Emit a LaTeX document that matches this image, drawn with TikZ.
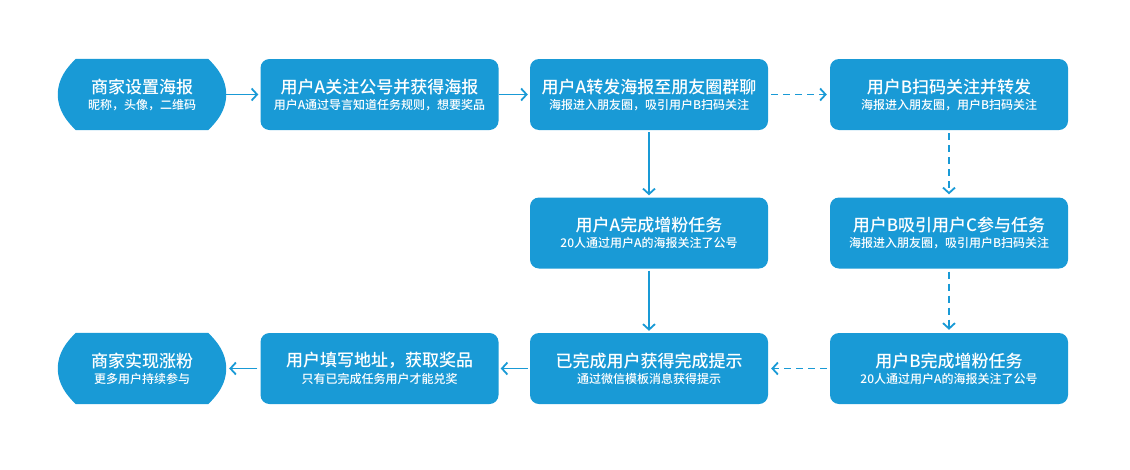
\documentclass[tikz,border=0pt]{standalone}
\usepackage{fontspec}
\setmainfont{Noto Sans CJK SC}[BoldFont={Noto Sans CJK SC Medium}]
\usetikzlibrary{arrows.meta}
\definecolor{cblue}{RGB}{25,154,214}
\begin{document}
\begin{tikzpicture}[x=1pt,y=1pt,
  box/.style={rounded corners=9pt,fill=cblue,minimum width=238pt,minimum height=71pt,text=white,align=center,inner sep=0pt},
  hexn/.style={minimum width=168pt,minimum height=71pt,text=white,align=center,inner sep=0pt},
  conn/.style={cblue,line width=1.8pt,-{Straight Barb[length=5.5pt,width=12pt,line width=1.8pt]}},
  dconn/.style={conn,dash pattern=on 7pt off 5pt}]
\useasboundingbox (0,0) rectangle (1130,-469);
\newcommand{\bt}[2]{{\bfseries\fontsize{17}{19}\selectfont #1}\\[4pt]{\bfseries\fontsize{12}{14}\selectfont #2}}
% hexagon-like nodes
\node[hexn] (start) at (142,-94.5) {};
\node[hexn] (end) at (142,-368.5) {};
\foreach \n in {start,end}{
  \fill[cblue] ([xshift=18pt]\n.north west) -- ([xshift=-18pt]\n.north east)
    .. controls +(9,-9) and +(0,16) .. (\n.east) .. controls +(0,-16) and +(9,9) .. ([xshift=-18pt]\n.south east)
    -- ([xshift=18pt]\n.south west) .. controls +(-9,9) and +(0,-16) .. (\n.west) .. controls +(0,16) and +(-9,-9) .. cycle;
}
\node[hexn] at (start) {\bt{商家设置海报}{昵称，头像，二维码}};
\node[hexn] at (end) {\bt{商家实现涨粉}{更多用户持续参与}};
% boxes
\node[box] (b2) at (379.5,-94.5) {\bt{用户A关注公号并获得海报}{用户A通过导言知道任务规则，想要奖品}};
\node[box] (b3) at (649,-94.5) {\bt{用户A转发海报至朋友圈群聊}{海报进入朋友圈，吸引用户B扫码关注}};
\node[box] (b4) at (949,-94.5) {\bt{用户B扫码关注并转发}{海报进入朋友圈，用户B扫码关注}};
\node[box] (b5) at (649,-233) {\bt{用户A完成增粉任务}{20人通过用户A的海报关注了公号}};
\node[box] (b6) at (949,-233) {\bt{用户B吸引用户C参与任务}{海报进入朋友圈，吸引用户B扫码关注}};
\node[box] (b7) at (379.5,-368.5) {\bt{用户填写地址，获取奖品}{只有已完成任务用户才能兑奖}};
\node[box] (b8) at (649,-368.5) {\bt{已完成用户获得完成提示}{通过微信模板消息获得提示}};
\node[box] (b9) at (949,-368.5) {\bt{用户B完成增粉任务}{20人通过用户A的海报关注了公号}};
% connectors
\draw[conn] (start.east) -- ([xshift=-2pt]b2.west);
\draw[conn] (b2.east) -- ([xshift=-2pt]b3.west);
\draw[dconn] ([xshift=3pt]b3.east) -- ([xshift=-3pt]b4.west);
\draw[conn] ([yshift=-2pt]b3.south) -- ([yshift=2pt]b5.north);
\draw[conn] ([yshift=-2pt]b5.south) -- ([yshift=2pt]b8.north);
\draw[dconn] ([yshift=-3pt]b4.south) -- ([yshift=3pt]b6.north);
\draw[dconn] ([yshift=-3pt]b6.south) -- ([yshift=3pt]b9.north);
\draw[dconn] ([xshift=-3pt]b9.west) -- ([xshift=3pt]b8.east);
\draw[conn] ([xshift=-2pt]b8.west) -- ([xshift=2pt]b7.east);
\draw[conn] ([xshift=-3pt]b7.west) -- ([xshift=3pt]end.east);
\end{tikzpicture}
\end{document}
